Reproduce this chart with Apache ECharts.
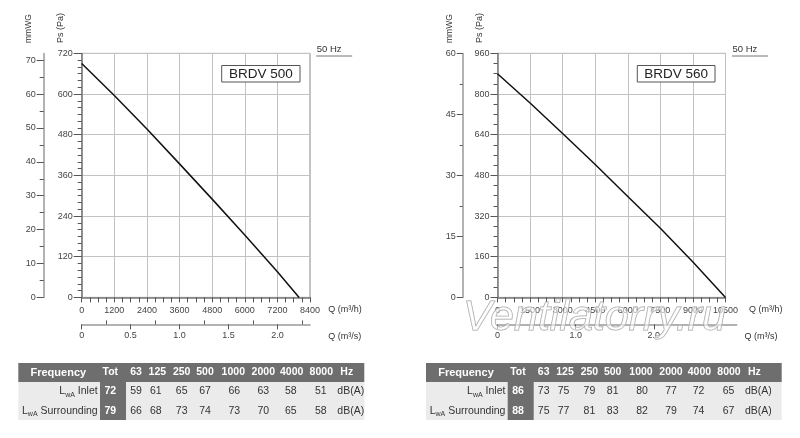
<!DOCTYPE html>
<html lang="en">
<head>
<meta charset="UTF-8">
<title>BRDV 500 / BRDV 560</title>
<style>
  html, body { margin: 0; padding: 0; background: #fff; }
  #chart { width: 800px; height: 438px; }
</style>
</head>
<body>
<div id="chart"></div>
<script src="https://cdn.jsdelivr.net/npm/echarts@6/dist/echarts.min.js"></script>
<script>
// fan curves: Q in m3/h, Ps in Pa
var q500 = [0, 1200, 2400, 3600, 4800, 6000, 7200, 8000];
var ps500 = [690, 596, 497, 394, 290, 184, 76, 0];
var q560 = [0, 1500, 3000, 4500, 6000, 7500, 9000, 10500];
var ps560 = [880, 765, 645, 523, 397, 272, 139, 0];

// sound table
var bands = ['63', '125', '250', '500', '1000', '2000', '4000', '8000'];
var tot500 = [72, 79];
var inlet500 = [59, 61, 65, 67, 66, 63, 58, 51];
var surr500 = [66, 68, 73, 74, 73, 70, 65, 58];
var tot560 = [86, 88];
var inlet560 = [73, 75, 79, 81, 80, 77, 72, 65];
var surr560 = [75, 77, 81, 83, 82, 79, 74, 67];

// tick labels of the secondary axes
var mmwg500 = [0, 10, 20, 30, 40, 50, 60, 70];
var mmwg500minor = [5, 15, 25, 35, 45, 55, 65];
var mmwg560 = [0, 15, 30, 45, 60];
var mmwg560minor = [7.5, 22.5, 37.5, 52.5];
var qs500 = [0, 0.5, 1.0, 1.5, 2.0];
var qs500minor = [0.25, 0.75, 1.25, 1.75, 2.25];
var qs560 = [0, 1.0, 2.0];

var FONT = 'Liberation Sans, Arial, sans-serif';
var LBL = { fontSize: 9, color: '#444', fontFamily: FONT };

function zip(a, b) {
    return a.map(function (v, i) { return [v, b[i]]; });
}

function plain(v) { return String(v); }
function qsFmt(v) { return v === 0 ? '0' : v.toFixed(1); }

function mainX(grid, max, step) {
    return {
        gridIndex: grid, type: 'value', position: 'bottom', min: 0, max: max, interval: step,
        axisLine: { onZero: false, lineStyle: { color: '#777', width: 1.5 } },
        axisTick: { length: 5, lineStyle: { color: '#555' } },
        minorTick: { show: true, splitNumber: 4, length: 5, lineStyle: { color: '#555' } },
        splitLine: { lineStyle: { color: '#c2c2c2' } },
        axisLabel: Object.assign({ margin: 9, formatter: plain, showMinLabel: true, showMaxLabel: true }, LBL)
    };
}

function mainY(grid, max, step, minors, tl) {
    return {
        gridIndex: grid, type: 'value', position: 'left', min: 0, max: max, interval: step,
        axisLine: { onZero: false, lineStyle: { color: '#777', width: 1.5 } },
        axisTick: { length: tl, lineStyle: { color: '#555' } },
        minorTick: { show: true, splitNumber: minors, length: 4, lineStyle: { color: '#555' } },
        splitLine: { lineStyle: { color: '#c2c2c2' } },
        axisLabel: Object.assign({ margin: tl + 1, formatter: plain }, LBL)
    };
}

function sideY(grid, off, max, major, minor, tl, minl) {
    return [{
        gridIndex: grid, type: 'value', position: 'left', offset: off, min: 0, max: max,
        axisLine: { onZero: false, lineStyle: { color: '#999', width: 1.5 } },
        axisTick: { customValues: major, length: tl, lineStyle: { color: '#555' } },
        axisLabel: Object.assign({ customValues: major, margin: tl + 1, formatter: plain }, LBL),
        splitLine: { show: false }
    }, {
        gridIndex: grid, type: 'value', position: 'left', offset: off, min: 0, max: max,
        axisLine: { show: false, onZero: false },
        axisTick: { customValues: minor, length: minl, lineStyle: { color: '#555' } },
        axisLabel: { show: false },
        splitLine: { show: false }
    }];
}

function sideX(grid, max, major, minor) {
    var list = [{
        gridIndex: grid, type: 'value', position: 'bottom', offset: 27, min: 0, max: max,
        axisLine: { onZero: false, lineStyle: { color: '#999', width: 1.5 } },
        axisTick: { customValues: major, length: 5, lineStyle: { color: '#555' } },
        axisLabel: Object.assign({ customValues: major, margin: 7, formatter: qsFmt }, LBL),
        splitLine: { show: false }
    }];
    if (minor) {
        list.push({
            gridIndex: grid, type: 'value', position: 'bottom', offset: 27, min: 0, max: max,
            axisLine: { show: false, onZero: false },
            axisTick: { customValues: minor, inside: true, length: 4, lineStyle: { color: '#555' } },
            axisLabel: { show: false },
            splitLine: { show: false }
        });
    }
    return list;
}

function txt(x, y, s, size, opt) {
    opt = opt || {};
    return {
        type: 'text', x: x, y: y, rotation: opt.rot || 0, z: 10,
        style: {
            text: s, fill: opt.color || '#333',
            font: (opt.bold ? 'bold ' : '') + size + 'px ' + FONT,
            textAlign: opt.align || 'left', textVerticalAlign: 'middle',
            rich: opt.rich
        }
    };
}

// chart decorations: axis names, 50 Hz, model box
function decor(ox, mmx, psx, qx, qsx, box, name) {
    return [
        txt(mmx, 43, 'mmWG', 8.5, { rot: Math.PI / 2 }),
        txt(psx, 43, 'Ps (Pa)', 9, { rot: Math.PI / 2 }),
        txt(ox + 235, 49.5, '50 Hz', 9.5),
        { type: 'line', shape: { x1: ox + 234.5, y1: 56, x2: ox + 270.5, y2: 56 }, style: { stroke: '#777', lineWidth: 1 } },
        txt(qx, 310, 'Q (m\u00b3/h)', 9),
        txt(qsx, 337, 'Q (m\u00b3/s)', 9),
        { type: 'rect', z: 10, shape: { x: box[0], y: 65.5, width: box[1], height: 16.5 },
          style: { fill: '#fff', stroke: '#555', lineWidth: 1 } },
        txt(box[0] + box[1] / 2, 74, name, 13.5, { align: 'center', color: '#222' })
    ];
}

var subRich = {
    m: { fontSize: 10.5, fontFamily: FONT, fill: '#333', verticalAlign: 'middle', lineHeight: 14 },
    s: { fontSize: 7, fontFamily: FONT, fill: '#333', verticalAlign: 'bottom', lineHeight: 11 }
};

// centres of the band columns, relative to the table's left edge
var valueX = [117.7, 137.5, 163.4, 186.7, 216, 245, 272.5, 302.5];
var headX = [117.7, 139, 163.4, 186.7, 215, 245, 273.4, 303];

function table(x0, w, tot, inlet, surr) {
    var dark = '#6e6e6e', light = '#ebebeb';
    var g = [
        { type: 'rect', shape: { x: x0, y: 363, width: w, height: 19 }, style: { fill: dark } },
        { type: 'rect', shape: { x: x0, y: 382, width: w, height: 38 }, style: { fill: light } },
        { type: 'rect', shape: { x: x0 + 81.7, y: 382, width: 26, height: 38 }, style: { fill: dark } },
        txt(x0 + 40, 372.5, 'Frequency', 11, { bold: true, color: '#fff', align: 'center' }),
        txt(x0 + 92, 372.5, 'Tot', 10.5, { bold: true, color: '#fff', align: 'center' }),
        txt(x0 + 322, 372.5, 'Hz', 10.5, { bold: true, color: '#fff' })
    ];
    bands.forEach(function (b, i) {
        g.push(txt(x0 + headX[i], 372.5, b, 10.5, { bold: true, color: '#fff', align: 'center' }));
    });
    var rows = [['Inlet', inlet, 391.5], ['Surrounding', surr, 411]];
    rows.forEach(function (r, k) {
        g.push(txt(x0 + 79.4, r[2], '{m|L}{s|wA}{m| ' + r[0] + '}', 10.5, { align: 'right', rich: subRich }));
        g.push(txt(x0 + 92, r[2], String(tot[k]), 10.5, { bold: true, color: '#fff', align: 'center' }));
        r[1].forEach(function (v, i) {
            g.push(txt(x0 + valueX[i], r[2], String(v), 10.5, { align: 'center' }));
        });
        g.push(txt(x0 + 319, r[2], 'dB(A)', 10.5));
    });
    return g;
}

var graphics = []
    .concat(decor(81.7, 29, 61, 328.3, 328.3, [221.7, 78.3], 'BRDV 500'))
    .concat(decor(497.5, 450, 480, 749, 744.5, [637.3, 77.7], 'BRDV 560'))
    .concat(table(18.3, 346, tot500, inlet500, surr500))
    .concat(table(426, 355.7, tot560, inlet560, surr560));

// watermark
graphics.push({
    type: 'text', x: 463, y: 340, z: 20,
    style: {
        text: 'Ventilatorry.ru', font: 'italic 43px ' + FONT,
        fill: 'rgba(255,255,255,0.55)', stroke: '#a0a0a0', lineWidth: 1,
        textAlign: 'left', textVerticalAlign: 'bottom'
    }
});

var gridBase = { top: 53.4, height: 244, show: true, borderColor: '#888', borderWidth: 1,
    outerBoundsMode: 'none', containLabel: false };

var option = {
    animation: false,
    textStyle: { fontFamily: FONT },
    grid: [
        Object.assign({ left: 81.7, width: 228.3 }, gridBase),
        Object.assign({ left: 497.5, width: 228 }, gridBase),
        { left: 497.5, width: 239.2, top: 53.4, height: 244, show: false, outerBoundsMode: 'none' }
    ],
    xAxis: [mainX(0, 8400, 1200)]
        .concat(sideX(0, 8400 / 3600, qs500, qs500minor))
        .concat([mainX(1, 10500, 1500)])
        .concat(sideX(2, 3.06, qs560, null)),
    yAxis: [mainY(0, 720, 120, 6, 8)]
        .concat(sideY(0, 38, 72, mmwg500, mmwg500minor, 7, 4))
        .concat([mainY(1, 960, 160, 4, 7)])
        .concat(sideY(1, 34.8, 60, mmwg560, mmwg560minor, 6, 3))
        .concat([{ gridIndex: 2, type: 'value', min: 0, max: 1, show: false }]),
    series: [
        { type: 'line', xAxisIndex: 0, yAxisIndex: 0, data: zip(q500, ps500),
          showSymbol: false, lineStyle: { color: '#111', width: 1.5 } },
        { type: 'line', xAxisIndex: 3, yAxisIndex: 3, data: zip(q560, ps560),
          showSymbol: false, lineStyle: { color: '#111', width: 1.5 } }
    ],
    graphic: graphics
};

var chart = echarts.init(document.getElementById('chart'), null, { renderer: 'canvas' });
chart.setOption(option);
</script>
</body>
</html>
